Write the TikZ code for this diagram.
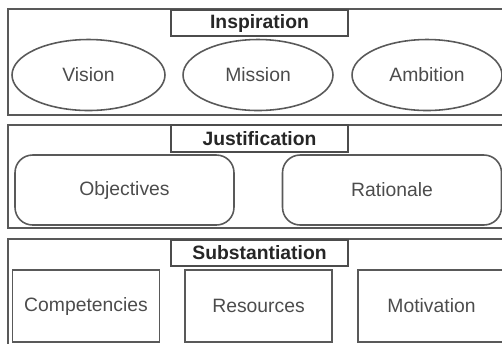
\documentclass[tikz,border=0pt]{standalone}
\usepackage{fontspec}
\setmainfont{Liberation Sans}
\usetikzlibrary{shapes.geometric}
\begin{document}
\begin{tikzpicture}[x=0.02cm,y=-0.02cm,
	panel/.style={draw=black!65,line width=1.6pt},
	title/.style={draw=black!70,line width=1pt,fill=white,text=black!85,
		font=\fontsize{11}{13}\selectfont\bfseries,inner sep=0pt,
		minimum width=3.54cm,minimum height=0.53cm},
	item/.style={draw=black!65,line width=0.9pt,text=black!70,inner sep=0pt,
		font=\fontsize{11}{13}\selectfont},
	goal/.style={item,ellipse,minimum height=1.42cm},
	aim/.style={item,rectangle,rounded corners=10pt,minimum width=4.38cm,minimum height=1.4cm},
	means/.style={item,rectangle,minimum width=2.94cm,minimum height=1.44cm}]
	\useasboundingbox (0,0) rectangle (502,343);
	\clip (0,0) rectangle (502,343);
	% panels
	\draw[panel] (8,9) rectangle (512,115);
	\draw[panel] (8,125) rectangle (512,228);
	\draw[panel] (8,239) rectangle (512,355);
	% inspiration
	\node[title] (insp) at (259.5,23) {Inspiration};
	\node[goal,minimum width=3.06cm] (vision) at (88.5,75) {Vision};
	\node[goal,minimum width=3.0cm] (mission) at (258,75) {Mission};
	\node[goal,minimum width=3.0cm] (ambition) at (427,75) {Ambition};
	% justification
	\node[title] (just) at (259.5,138.5) {Justification};
	\node[aim] (objectives) at (124.5,190) {Objectives};
	\node[aim] (rationale) at (392,190) {Rationale};
	% substantiation
	\node[title] (subst) at (259.5,253) {Substantiation};
	\node[means] (competencies) at (86,306) {Competencies};
	\node[means] (resources) at (258.5,306) {Resources};
	\node[means] (motivation) at (431.5,306) {Motivation};
\end{tikzpicture}
\end{document}
